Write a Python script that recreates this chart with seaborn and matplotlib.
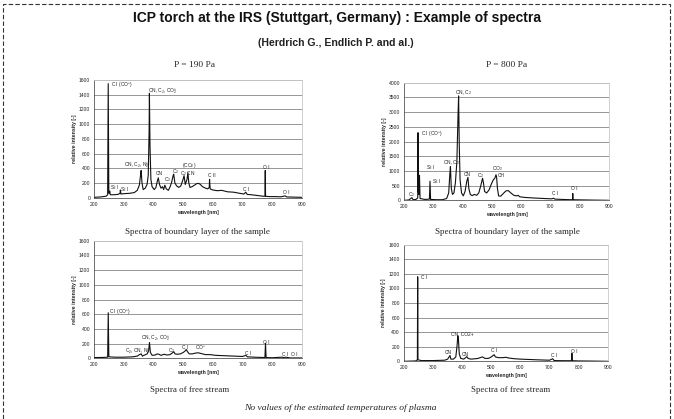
import matplotlib
matplotlib.use("Agg")
import matplotlib.pyplot as plt
import seaborn as sns
from matplotlib.patches import Rectangle

# ---- spectra (wavelength [nm] / relative intensity [-]) ----
wl_bl190 = [200, 220, 240, 245, 247, 249, 251, 252, 254, 265, 280, 287, 288, 290, 300, 320, 335, 345, 352,
            356, 358, 361, 365, 372, 378, 382, 385, 386, 388, 391, 395, 402, 408, 413, 416, 420, 425, 430,
            434, 438, 443, 450, 456, 461, 466, 468, 472, 478, 485, 492, 498, 503, 507, 513, 516, 519, 523,
            530, 538, 545, 552, 558, 565, 575, 583, 588, 589, 591, 600, 615, 630, 650, 670, 690, 705, 711,
            716, 730, 750, 770, 776, 777, 778, 790, 810, 830, 844, 850, 870, 900]
int_bl190 = [5, 10, 20, 40, 1550, 60, 70, 90, 40, 40, 45, 60, 105, 50, 55, 60, 70, 100, 170,
             300, 370, 200, 110, 130, 180, 300, 900, 1420, 700, 250, 150, 110, 140, 230, 270, 180, 130, 150,
             110, 170, 120, 100, 150, 210, 300, 320, 200, 160, 140, 160, 230, 300, 180, 250, 340, 200, 140,
             150, 170, 190, 195, 180, 150, 130, 120, 140, 250, 120, 105, 95, 100, 80, 75, 60, 50, 75,
             45, 40, 30, 20, 20, 370, 20, 15, 15, 12, 25, 10, 8, 5]

wl_bl800 = [200, 215, 222, 226, 230, 240, 246, 247, 248, 250, 252, 254, 270, 286, 288, 290, 310, 330, 345,
            352, 356, 358, 361, 365, 370, 375, 380, 384, 386, 388, 391, 396, 402, 408, 414, 418, 421, 426,
            432, 440, 448, 455, 462, 468, 471, 475, 482, 490, 498, 505, 510, 514, 516, 519, 523, 530, 538,
            548, 556, 565, 575, 585, 590, 595, 610, 640, 680, 705, 711, 716, 740, 770, 776, 777, 778, 800,
            830, 860, 900]
int_bl800 = [0, 10, 60, 90, 20, 30, 80, 2300, 300, 200, 850, 60, 30, 40, 650, 30, 20, 20, 60,
             250, 900, 1150, 400, 200, 250, 600, 1300, 2900, 3550, 2000, 700, 250, 150, 300, 650, 780, 400, 200,
             160, 200, 170, 250, 500, 750, 600, 300, 250, 350, 550, 700, 750, 870, 800, 400, 150, 140, 220,
             320, 330, 250, 170, 150, 170, 120, 100, 80, 60, 50, 70, 40, 30, 20, 20, 230, 20, 15,
             10, 5, 0]

wl_fs190 = [200, 230, 245, 247, 249, 270, 300, 330, 345, 352, 358, 362, 370, 378, 383, 386, 389, 395, 405,
            412, 418, 425, 435, 445, 455, 462, 468, 472, 480, 490, 500, 506, 510, 514, 520, 530, 540, 550,
            560, 575, 590, 610, 640, 670, 700, 711, 716, 740, 775, 777, 779, 800, 833, 840, 845, 860, 900]
int_fs190 = [10, 12, 15, 620, 20, 15, 15, 20, 30, 50, 60, 30, 45, 60, 100, 215, 80, 40, 45,
             60, 55, 40, 55, 45, 50, 70, 90, 60, 55, 60, 80, 100, 120, 90, 60, 60, 70, 75,
             65, 50, 50, 40, 35, 30, 25, 40, 20, 15, 10, 205, 10, 8, 15, 8, 15, 5, 5]

wl_fs800 = [200, 240, 246, 247, 248, 260, 300, 340, 350, 355, 358, 361, 370, 378, 382, 385, 387, 390, 395,
            405, 412, 416, 420, 430, 445, 455, 465, 470, 478, 490, 500, 506, 510, 514, 525, 540, 550, 560,
            580, 600, 630, 660, 700, 711, 716, 750, 776, 777, 778, 800, 850, 900]
int_fs800 = [0, 5, 20, 1160, 20, 10, 10, 15, 30, 60, 80, 30, 30, 60, 200, 350, 300, 100, 40,
             30, 50, 65, 40, 30, 35, 40, 55, 60, 40, 40, 60, 80, 90, 60, 50, 50, 55, 45,
             35, 30, 25, 20, 15, 35, 10, 8, 8, 110, 8, 5, 3, 0]

# peak labels: text, wavelength, intensity
lab_bl190 = [("C I (CO$^{+}$)", 256, 1530), ("CN, C$_2$, CO$_2^{+}$", 381, 1450), ("CN, C$_2$, N$_2^{+}$", 300, 440),
             ("CN", 409, 330), ("C$_2$", 462, 350), ("(CO$_2$)", 496, 440), ("C$_2$ CN", 490, 325),
             ("C$_2$", 434, 245), ("Si I", 257, 140), ("Si I", 291, 105), ("C II", 584, 305),
             ("C I", 703, 110), ("O I", 770, 405), ("O I", 838, 75)]
lab_bl800 = [("C$_2$", 212, 210), ("C I (CO$^{+}$)", 257, 2230), ("Si I", 277, 1110), ("Si I", 298, 633),
             ("CN, C$_2$", 331, 1280), ("CN, C$_2$", 374, 3680), ("CN", 404, 884), ("C$_2$", 449, 840),
             ("CO$_2$", 499, 1090), ("CH", 520, 860), ("C I", 705, 215), ("O I", 771, 395)]
lab_fs190 = [("C I (CO$^{+}$)", 250, 620), ("CN, C$_2$, CO$_2^{+}$", 356, 280), ("C$_2$, CN, N$_2^{+}$", 302, 100),
             ("C$_2$", 450, 110), ("C I", 497, 145), ("CO$^{+}$", 538, 136), ("C I", 709, 68),
             ("O I", 769, 212), ("C I  O I", 832, 45)]
lab_fs800 = [("C I", 257, 1150), ("CN, CO2+", 362, 372), ("CN", 340, 124), ("CN", 400, 100),
             ("C I", 498, 155), ("C I", 704, 80), ("O I", 775, 132)]

yticks_1600 = list(range(0, 1601, 200))
yticks_4000 = list(range(0, 4001, 500))
xticks = list(range(200, 901, 100))

sns.set_theme(style="white")
plt.rcParams["font.family"] = ["Liberation Sans", "DejaVu Sans"]
plt.rcParams["mathtext.fontset"] = "custom"
plt.rcParams["mathtext.rm"] = "Liberation Sans"
plt.rcParams["mathtext.it"] = "Liberation Sans:italic"
plt.rcParams["mathtext.bf"] = "Liberation Sans:bold"

W, H = 674, 419
fig = plt.figure(figsize=(W / 100, H / 100), dpi=100)
fig.patch.set_facecolor("white")


def panel(rect, wl, inten, labels, yticks):
    ax = fig.add_axes(rect)
    sns.lineplot(x=wl, y=inten, ax=ax, color="#111111", linewidth=0.8)
    ax.set_xlim(200, 900)
    ax.set_ylim(yticks[0], yticks[-1])
    ax.set_xticks(xticks)
    ax.set_yticks(yticks)
    ax.tick_params(labelsize=3.6, length=1.5, width=0.4, pad=1.5, colors="#222222")
    ax.grid(axis="y", color="#7a7a7a", linewidth=0.55)
    ax.set_axisbelow(True)
    for s in ["top", "right"]:
        ax.spines[s].set_color("#c8c8c8")
        ax.spines[s].set_linewidth(0.6)
    for s in ["left", "bottom"]:
        ax.spines[s].set_color("#333333")
        ax.spines[s].set_linewidth(0.5)
    ax.set_xlabel("wavelength [nm]", fontsize=3.8, fontweight="bold", labelpad=2)
    ax.set_ylabel("relative intensity [-]", fontsize=3.8, fontweight="bold", labelpad=1.5)
    for txt, x, y in labels:
        ax.text(x, y, txt, fontsize=3.5, va="center", ha="left", color="#222222")
    return ax


panel([94.3 / W, 1 - 197.7 / H, 207.4 / W, 117.7 / H], wl_bl190, int_bl190, lab_bl190, yticks_1600)
panel([404.3 / W, 1 - 200.3 / H, 204.4 / W, 117.6 / H], wl_bl800, int_bl800, lab_bl800, yticks_4000)
panel([94.3 / W, 1 - 358.3 / H, 207.7 / W, 117.6 / H], wl_fs190, int_fs190, lab_fs190, yticks_1600)
panel([404.0 / W, 1 - 361.3 / H, 203.7 / W, 116.6 / H], wl_fs800, int_fs800, lab_fs800, yticks_1600)

# texts of the slide
fig.text(337 / W, 1 - 18 / H, "ICP torch at the IRS (Stuttgart, Germany) : Example of spectra",
         ha="center", va="center", fontsize=10, fontweight="bold", color="#111111")
fig.text(336 / W, 1 - 43 / H, "(Herdrich G., Endlich P. and al.)",
         ha="center", va="center", fontsize=7.6, fontweight="bold", color="#222222")
serif = ["Liberation Serif", "DejaVu Serif"]
fig.text(195 / W, 1 - 65 / H, "P = 190 Pa", ha="center", va="center", fontsize=6.8, family=serif)
fig.text(507 / W, 1 - 65 / H, "P = 800 Pa", ha="center", va="center", fontsize=6.8, family=serif)
fig.text(197 / W, 1 - 232 / H, "Spectra of boundary layer of the sample", ha="center", va="center",
         fontsize=6.5, family=serif)
fig.text(507 / W, 1 - 232 / H, "Spectra of boundary layer of the sample", ha="center", va="center",
         fontsize=6.5, family=serif)
fig.text(189.5 / W, 1 - 389.5 / H, "Spectra of free stream", ha="center", va="center",
         fontsize=6.4, family=serif)
fig.text(510.5 / W, 1 - 389.5 / H, "Spectra of free stream", ha="center", va="center",
         fontsize=6.4, family=serif)
fig.text(340.5 / W, 1 - 407.5 / H, "No values of the estimated temperatures of plasma", ha="center",
         va="center", fontsize=6.8, family=serif, style="italic", color="#222222")

# dashed frame of the slide (bottom edge lies outside the picture)
fig.add_artist(Rectangle((3 / W, -0.05), 667 / W, 1.05 - 4 / H, transform=fig.transFigure,
                         fill=False, edgecolor="#333333", linewidth=0.8, linestyle=(0, (4, 2))))

fig.savefig("out.png", dpi=100)
